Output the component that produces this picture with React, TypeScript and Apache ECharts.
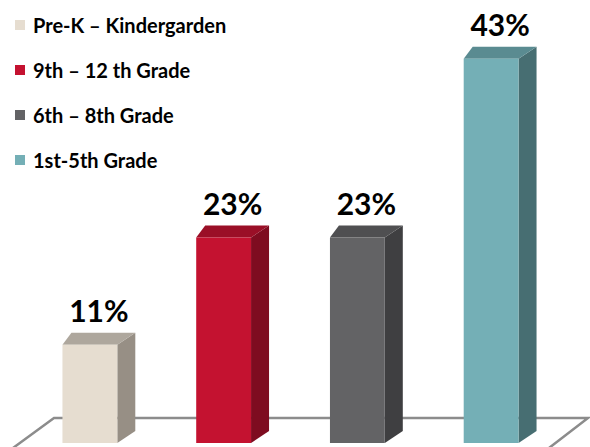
import React, { useEffect, useRef } from "react";
import * as echarts from "echarts";

const categories = ["Pre-K – Kindergarden", "9th – 12 th Grade", "6th – 8th Grade", "1st-5th Grade"];
const values = [11, 23, 23, 43];
const labels = ["11%", "23%", "23%", "43%"];

const frontColors = ["#E6DDD0", "#C41230", "#636365", "#74AFB6"];
const sideColors = ["#978F85", "#7E0C20", "#3F3F41", "#476E72"];
const topColors = ["#AEA79D", "#9A0F27", "#4F4F51", "#5A8B91"];

const DXL = 9;
const DXR = 18;
const DY = 12;

export default function App() {
  const ref = useRef<HTMLDivElement>(null);
  useEffect(() => {
    if (!ref.current) return;
    const chart = echarts.init(ref.current, undefined, { renderer: "svg" });
    const series = categories.map((name, i) => ({
      name,
      type: "custom",
      color: frontColors[i],
      itemStyle: { color: frontColors[i] },
      z: 5,
      data: [[i, values[i]]],
      renderItem: (params: any, api: any) => {
        const xi = api.value(0);
        const v = api.value(1);
        const top = api.coord([xi, v]);
        const base = api.coord([xi, 0]);
        const bw = api.size([1, 0])[0] * 0.41;
        const x0 = top[0] - bw / 2;
        const x1 = top[0] + bw / 2;
        const yt = top[1];
        const yb = base[1];
        return {
          type: "group",
          children: [
            {
              type: "polygon",
              shape: { points: [[x1, yt], [x1 + DXR, yt - DY], [x1 + DXR, yb - DY], [x1, yb]] },
              style: { fill: sideColors[i] },
            },
            {
              type: "polygon",
              shape: { points: [[x0, yt], [x0 + DXL, yt - DY], [x1 + DXR, yt - DY], [x1, yt]] },
              style: { fill: topColors[i] },
            },
            {
              type: "rect",
              shape: { x: x0, y: yt, width: bw, height: yb - yt },
              style: { fill: frontColors[i] },
            },
            {
              type: "text",
              x: top[0] + DXR / 2,
              y: yt - DY - 8,
              style: {
                text: labels[i],
                fontFamily: "Lato",
                fontWeight: "bold",
                fontSize: 30,
                fill: "#000",
                align: "center",
                verticalAlign: "bottom",
              },
            },
          ],
        };
      },
    }));
    chart.setOption({
      animation: false,
      grid: { left: 23, right: 32, top: 41, bottom: 4 },
      xAxis: { type: "category", data: categories, show: false },
      yAxis: { type: "value", min: 0, max: 45, show: false },
      legend: {
        orient: "vertical",
        left: 15,
        top: 15,
        padding: 0,
        icon: "rect",
        itemWidth: 10,
        itemHeight: 10,
        itemGap: 25,
        textStyle: {
          fontFamily: "Lato",
          fontWeight: "bold",
          fontSize: 20,
          color: "#000",
          padding: [0, 0, 0, 3],
        },
        data: categories,
      },
      graphic: [
        {
          type: "polyline",
          z: 0,
          shape: { points: [[13, 448], [54, 418], [588, 418], [549, 448]] },
          style: { stroke: "#8C8C8C", lineWidth: 2.5, fill: "none" },
        },
      ],
      series,
    });
    return () => chart.dispose();
  }, []);
  return <div ref={ref} style={{ width: 590, height: 447, position: "absolute", left: 0, top: 0 }} />;
}
